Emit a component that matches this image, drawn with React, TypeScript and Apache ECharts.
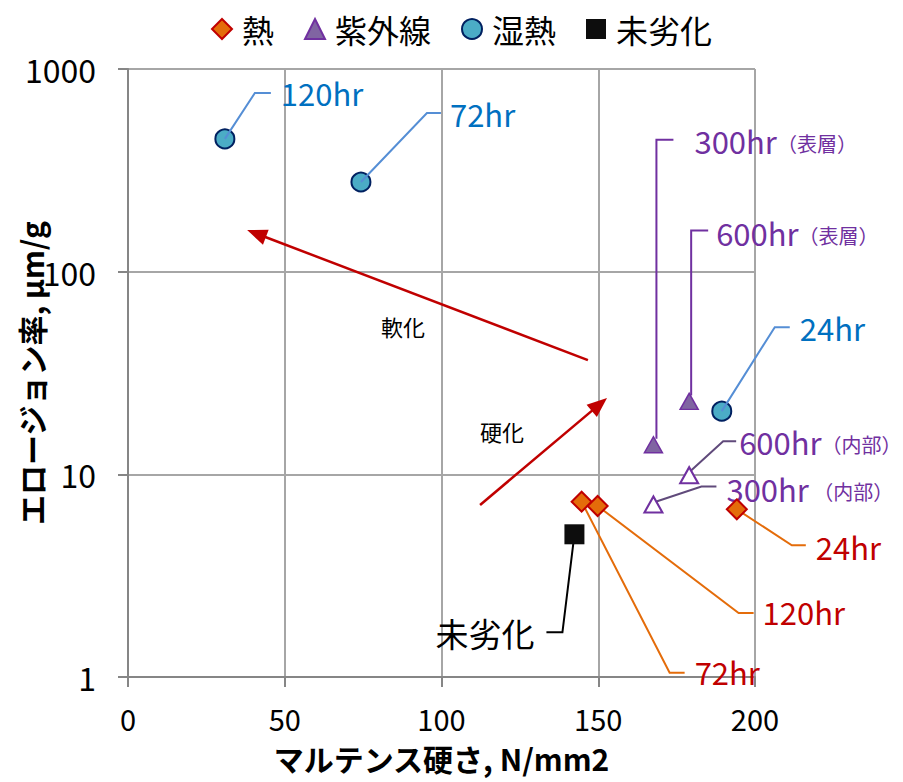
import React, { useEffect, useRef } from "react";
import * as echarts from "echarts";

const FONT = "'Noto Sans CJK JP', 'Noto Sans', sans-serif";

// ---------- data ----------
// 熱
const heatNames = ["72hr", "120hr", "24hr"];
const heatX = [144.7, 149.8, 194.2];
const heatY = [7.33, 6.98, 6.72];
// 紫外線（表層）
const uvSurfNames = ["300hr", "600hr"];
const uvSurfSuffix = ["（表層）", "（表層）"];
const uvSurfX = [167.6, 179.0];
const uvSurfY = [14.0, 22.9];
// 紫外線（内部）
const uvInNames = ["600hr", "300hr"];
const uvInSuffix = ["（内部）", " （内部）"];
const uvInX = [179.0, 167.6];
const uvInY = [9.9, 7.1];
// 湿熱
const humidNames = ["120hr", "72hr", "24hr"];
const humidX = [30.9, 74.3, 189.4];
const humidY = [452, 277, 20.5];
// 未劣化
const baseNames = ["未劣化"];
const baseX = [142.4];
const baseY = [5.06];

// annotation arrows
const arrowLabels = ["軟化", "硬化"];
const arrowFromX = [146.7, 112.3];
const arrowFromY = [36.6, 7.06];
const arrowToX = [38.0, 152.8];
const arrowToY = [160.4, 23.8];
const arrowLabelX = [87.7, 119.3];
const arrowLabelY = [53.9, 16.4];

// axis ticks
const xTicks = { min: 0, max: 200, interval: 50 };
const yTicks = { min: 1, max: 1000 };

// ---------- callout layout (pixel offsets from marker centre) ----------
type Callout = { lx: number; ly: number; align?: string; pts: number[][] };
const heatCallouts: Callout[] = [
  { lx: 113, ly: 169.5, pts: [[0, 0], [88, 171], [103, 171]] },
  { lx: 165, ly: 106, pts: [[0, 0], [141, 107], [156, 107]] },
  { lx: 79, ly: 37.5, pts: [[0, 0], [55, 36], [69, 36]] },
];
const uvSurfCallouts: Callout[] = [
  { lx: 41, ly: -304, pts: [[3, -6], [3, -305], [20, -305]] },
  { lx: 27, ly: -169, pts: [[2, -6], [2, -171], [19, -171]] },
];
const uvInCallouts: Callout[] = [
  { lx: 50, ly: -34, pts: [[0, -3], [34, -34], [47, -34]] },
  { lx: 73, ly: -16, pts: [[0, -2], [48, -18], [63, -18]] },
];
const humidCallouts: Callout[] = [
  { lx: 56, ly: -46, pts: [[0, 0], [30, -46], [46, -46]] },
  { lx: 89, ly: -68, pts: [[0, 0], [66, -69], [80, -69]] },
  { lx: 78, ly: -84, pts: [[0, 0], [53, -84], [68, -84]] },
];
const baseCallouts: Callout[] = [
  { lx: -40, ly: 99, align: "right", pts: [[0, 0], [-12, 98], [-28, 98]] },
];

function calloutSeries(
  id: string,
  xs: number[],
  ys: number[],
  names: string[],
  suffixes: string[] | null,
  callouts: Callout[],
  lineColor: string,
  textColor: string,
  fontSize: number,
  z: number
) {
  return {
    type: "custom",
    id,
    coordinateSystem: "cartesian2d",
    silent: true,
    z,
    clip: false,
    encode: { x: 0, y: 1 },
    data: xs.map((x, i) => [x, ys[i], i]),
    renderItem: (params: any, api: any) => {
      const i = api.value(2);
      const p = api.coord([api.value(0), api.value(1)]);
      const c = callouts[i];
      const text = suffixes ? `{a|${names[i]}}{b|${suffixes[i]}}` : names[i];
      return {
        type: "group",
        children: [
          {
            type: "polyline",
            shape: { points: c.pts.map((q) => [p[0] + q[0], p[1] + q[1]]) },
            style: { stroke: lineColor, lineWidth: 2, fill: null },
          },
          {
            type: "text",
            x: p[0] + c.lx,
            y: p[1] + c.ly,
            style: {
              text,
              fill: textColor,
              fontSize,
              fontFamily: FONT,
              align: c.align || "left",
              verticalAlign: "middle",
              rich: suffixes
                ? {
                    a: { fontSize, fontFamily: FONT, fill: textColor },
                    b: { fontSize: 20, fontFamily: FONT, fill: textColor, padding: [6, 0, 0, 0] },
                  }
                : undefined,
            },
          },
        ],
      };
    },
  };
}

export default function App() {
  const ref = useRef<HTMLDivElement>(null);

  useEffect(() => {
    if (!ref.current) return;
    const chart = echarts.init(ref.current, null, { renderer: "svg" });

    const axisLineStyle = { color: "#868686", width: 2 };
    const gridLineStyle = { color: "#A6A6A6", width: 2 };

    const option: any = {
      animation: false,
      backgroundColor: "#FFFFFF",
      textStyle: { fontFamily: FONT },
      grid: {
        left: 128,
        right: 148,
        top: 69,
        bottom: 105,
        containLabel: false,
        outerBoundsMode: "none",
      },
      legend: {
        data: ["熱", "紫外線", "湿熱", "未劣化"],
        left: 206,
        top: 8,
        itemWidth: 20,
        itemHeight: 20,
        itemGap: 30,
        textStyle: { fontSize: 32, color: "#000", fontFamily: FONT, padding: [0, 0, 0, 5] },
      },
      xAxis: {
        type: "value",
        min: xTicks.min,
        max: xTicks.max,
        interval: xTicks.interval,
        name: "マルテンス硬さ, N/mm2",
        nameLocation: "middle",
        nameGap: 66,
        nameMoveOverlap: false,
        nameTextStyle: {
          fontSize: 30,
          lineHeight: 30,
          fontWeight: "bold",
          color: "#000",
          fontFamily: FONT,
        },
        axisLine: { show: true, lineStyle: axisLineStyle },
        axisTick: { show: true, length: 10, lineStyle: axisLineStyle },
        axisLabel: { fontSize: 29, lineHeight: 24, color: "#000", margin: 29, fontFamily: FONT },
        splitLine: { show: true, lineStyle: gridLineStyle },
      },
      yAxis: {
        type: "log",
        logBase: 10,
        min: yTicks.min,
        max: yTicks.max,
        name: "エロージョン率, μm/g",
        nameLocation: "middle",
        nameRotate: 90,
        nameGap: 82,
        nameMoveOverlap: false,
        nameTextStyle: {
          fontSize: 30,
          lineHeight: 30,
          fontWeight: "bold",
          color: "#000",
          fontFamily: FONT,
        },
        axisLine: { show: true, lineStyle: axisLineStyle },
        axisTick: { show: true, length: 10, lineStyle: axisLineStyle },
        axisLabel: {
          fontSize: 32,
          color: "#000",
          margin: 32,
          fontFamily: FONT,
          formatter: (v: number) => String(Math.round(v)),
        },
        splitLine: { show: true, lineStyle: gridLineStyle },
        minorTick: { show: false },
      },
      series: [
        {
          type: "custom",
          id: "arrows",
          coordinateSystem: "cartesian2d",
          silent: true,
          z: 1,
          encode: { x: [0, 2, 4], y: [1, 3, 5] },
          data: arrowFromX.map((x, i) => [
            x,
            arrowFromY[i],
            arrowToX[i],
            arrowToY[i],
            arrowLabelX[i],
            arrowLabelY[i],
            i,
          ]),
          renderItem: (params: any, api: any) => {
            const p0 = api.coord([api.value(0), api.value(1)]);
            const p1 = api.coord([api.value(2), api.value(3)]);
            const pl = api.coord([api.value(4), api.value(5)]);
            const i = api.value(6);
            const dx = p1[0] - p0[0];
            const dy = p1[1] - p0[1];
            const len = Math.sqrt(dx * dx + dy * dy);
            const ux = dx / len;
            const uy = dy / len;
            const hl = 20;
            const hw = 8;
            const bx = p1[0] - ux * hl;
            const by = p1[1] - uy * hl;
            return {
              type: "group",
              children: [
                {
                  type: "line",
                  shape: { x1: p0[0], y1: p0[1], x2: bx + ux * 2, y2: by + uy * 2 },
                  style: { stroke: "#C00000", lineWidth: 2.5 },
                },
                {
                  type: "polygon",
                  shape: {
                    points: [
                      [p1[0], p1[1]],
                      [bx - uy * hw, by + ux * hw],
                      [bx + uy * hw, by - ux * hw],
                    ],
                  },
                  style: { fill: "#C00000" },
                },
                {
                  type: "text",
                  x: pl[0],
                  y: pl[1],
                  style: {
                    text: arrowLabels[i],
                    fill: "#000",
                    fontSize: 22,
                    fontFamily: FONT,
                    align: "center",
                    verticalAlign: "middle",
                  },
                },
              ],
            };
          },
        },
        calloutSeries("heatCall", heatX, heatY, heatNames, null, heatCallouts, "#E46C0A", "#C00000", 31, 1),
        calloutSeries("uvSurfCall", uvSurfX, uvSurfY, uvSurfNames, uvSurfSuffix, uvSurfCallouts, "#7030A0", "#7030A0", 31, 1),
        calloutSeries("uvInCall", uvInX, uvInY, uvInNames, uvInSuffix, uvInCallouts, "#604A7B", "#7030A0", 31, 1),
        calloutSeries("baseCall", baseX, baseY, baseNames, null, baseCallouts, "#000000", "#000000", 33, 1),
        {
          type: "scatter",
          name: "熱",
          symbol: "diamond",
          symbolSize: 20,
          z: 2,
          itemStyle: { color: "#E46C0A", borderColor: "#C00000", borderWidth: 2, opacity: 1 },
          data: heatX.map((x, i) => [x, heatY[i]]),
        },
        {
          type: "scatter",
          name: "紫外線",
          symbol: "triangle",
          symbolSize: [18, 16],
          z: 2,
          itemStyle: { color: "#8064A2", borderColor: "#7030A0", borderWidth: 1.5, opacity: 1 },
          data: uvSurfX.map((x, i) => [x, uvSurfY[i]]),
        },
        {
          type: "scatter",
          name: "紫外線（内部）",
          symbol: "triangle",
          symbolSize: [18, 16],
          z: 2,
          itemStyle: { color: "#FFFFFF", borderColor: "#7030A0", borderWidth: 2, opacity: 1 },
          data: uvInX.map((x, i) => [x, uvInY[i]]),
        },
        {
          type: "scatter",
          name: "湿熱",
          symbol: "circle",
          symbolSize: 19,
          z: 2,
          itemStyle: { color: "#4BACC6", borderColor: "#002060", borderWidth: 2, opacity: 1 },
          data: humidX.map((x, i) => [x, humidY[i]]),
        },
        {
          type: "scatter",
          name: "未劣化",
          symbol: "rect",
          symbolSize: 20,
          z: 2,
          itemStyle: { color: "#0D0D0D", opacity: 1 },
          data: baseX.map((x, i) => [x, baseY[i]]),
        },
        calloutSeries("humidCall", humidX, humidY, humidNames, null, humidCallouts, "#558ED5", "#0070C0", 31, 3),
      ],
    };

    chart.setOption(option);
    return () => chart.dispose();
  }, []);

  return (
    <div
      ref={ref}
      style={{ position: "fixed", left: 0, top: 0, width: 903, height: 782, background: "#fff" }}
    />
  );
}
